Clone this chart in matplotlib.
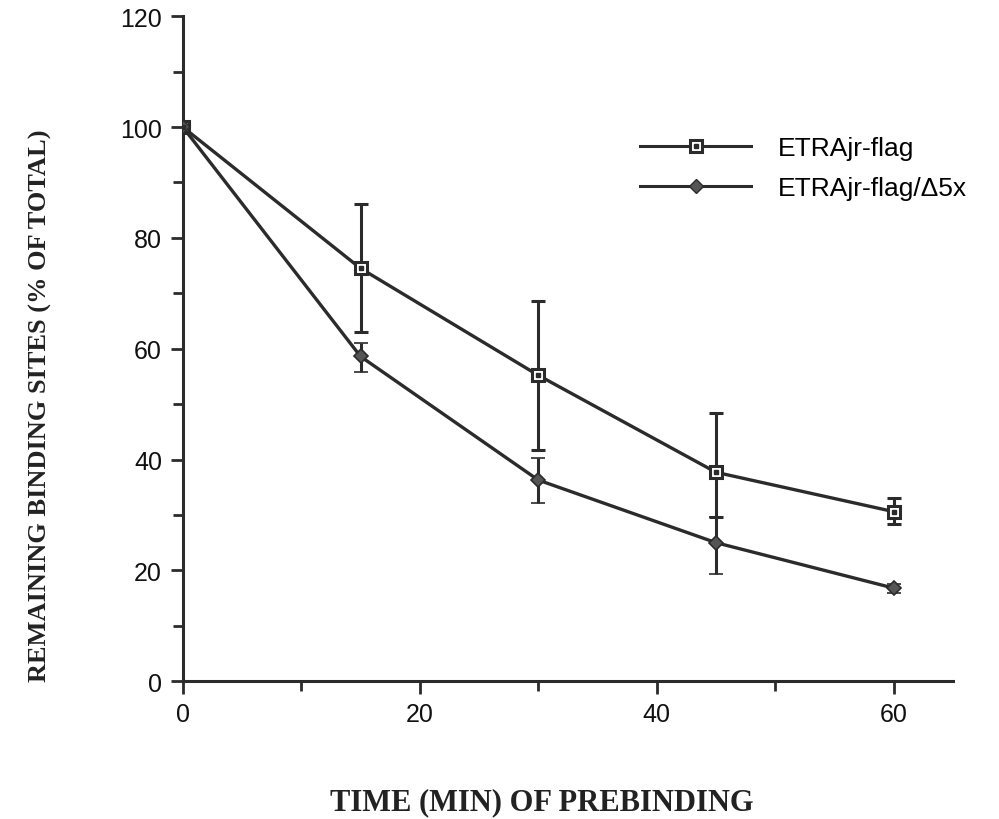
import numpy as np
import matplotlib
matplotlib.use('Agg')
import matplotlib.pyplot as plt
from matplotlib.lines import Line2D

time_min = [0, 15, 30, 45, 60]
flag_mean = [100, 74.5, 55.2, 37.7, 30.6]
flag_err_lo = [0, 11.4, 13.4, 8.0, 2.3]
flag_err_hi = [0, 11.6, 13.4, 10.7, 2.5]
delta_mean = [100, 58.6, 36.3, 25.0, 16.8]
delta_err_lo = [0, 2.8, 4.2, 5.6, 0.8]
delta_err_hi = [0, 2.4, 4.0, 4.7, 0.8]
series_labels = ['ETRAjr-flag', 'ETRAjr-flag/\u03945x']

ink = '#2b2b2b'
tick_font = ['Liberation Sans Narrow', 'Liberation Sans', 'DejaVu Sans']

fig = plt.figure(figsize=(9.99, 8.2), dpi=100)
ax = fig.add_axes([0.183, 0.168, 0.771, 0.811])

ax.errorbar(time_min, flag_mean, yerr=[flag_err_lo, flag_err_hi], color=ink, lw=2.4,
            elinewidth=2.2, capsize=5, capthick=2.2, marker='s', ms=8,
            mfc='white', mec=ink, mew=2.2, zorder=3)
ax.plot(time_min, flag_mean, ls='none', marker='s', ms=2.2, color=ink, zorder=4)
ax.errorbar(time_min, delta_mean, yerr=[delta_err_lo, delta_err_hi], color=ink, lw=2.4,
            elinewidth=2.2, capsize=5, capthick=2.2, marker='D', ms=7,
            mfc='#555555', mec=ink, mew=1.2, zorder=3)

ax.set_xlim(0, 65)
ax.set_ylim(0, 120)
ax.set_xticks([0, 20, 40, 60])
ax.set_xticks([10, 30, 50], minor=True)
ax.set_yticks(np.arange(0, 121, 20))
ax.set_yticks(np.arange(10, 120, 20), minor=True)
for s in ['top', 'right']:
    ax.spines[s].set_visible(False)
for s in ['left', 'bottom']:
    ax.spines[s].set_linewidth(2.2)
    ax.spines[s].set_color(ink)
ax.tick_params(which='both', direction='out', color=ink, width=2)
ax.tick_params(which='major', length=9, labelsize=18, pad=6)
ax.tick_params(which='minor', length=7)
for lab in ax.get_xticklabels() + ax.get_yticklabels():
    lab.set_family(tick_font)
    lab.set_color('#111111')

sq = Line2D([], [], color=ink, lw=2.2, marker='s', ms=8, mfc='white', mec=ink, mew=2.2)
dot = Line2D([], [], ls='none', marker='s', ms=2.2, color=ink)
dia = Line2D([], [], color=ink, lw=2.2, marker='D', ms=7, mfc='#555555', mec=ink)
leg = ax.legend([(sq, dot), dia], series_labels, loc='upper left',
                bbox_to_anchor=(0.563, 0.855), frameon=False, handlelength=4.2,
                handletextpad=1.0, labelspacing=0.6,
                prop={'family': tick_font, 'size': 19})

fig.text(0.04, 0.505, 'REMAINING BINDING SITES (% OF TOTAL)', rotation=90,
         ha='center', va='center', fontsize=19, fontweight='bold',
         family=['Liberation Serif', 'DejaVu Serif'], color='#222222')
fig.text(0.542, 0.021, 'TIME (MIN) OF PREBINDING', ha='center', va='center',
         fontsize=22, fontweight='bold', family=['Liberation Serif', 'DejaVu Serif'],
         color='#222222')

fig.savefig('out.png', dpi=100)
